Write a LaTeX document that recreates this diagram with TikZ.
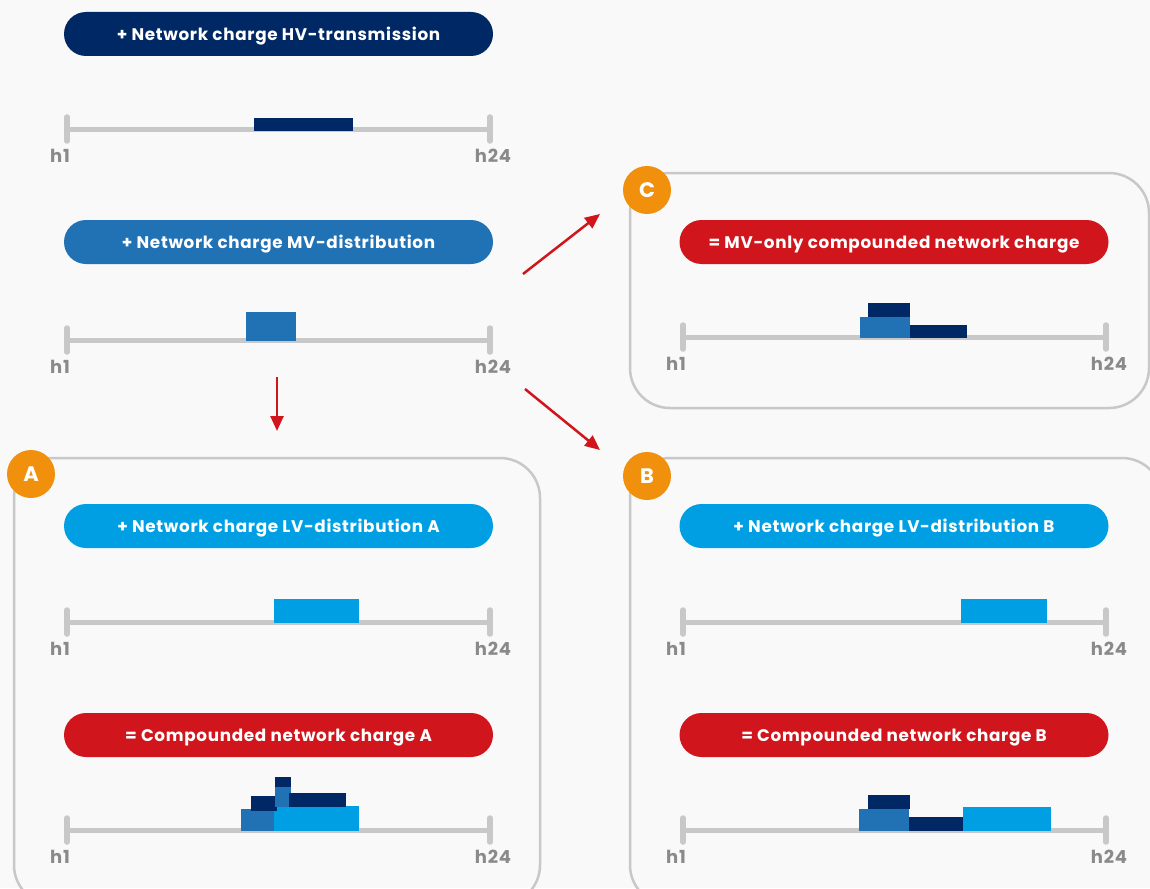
\documentclass[tikz,border=0pt]{standalone}
\usepackage{fontspec}
\setmainfont{Poppins}
\newfontfamily\pillfont[LetterSpace=4]{Poppins}
\usetikzlibrary{arrows.meta}
\definecolor{navy}{HTML}{002864}
\definecolor{midblue}{HTML}{2171B5}
\definecolor{lightblue}{HTML}{009FE3}
\definecolor{chargered}{HTML}{D0161C}
\definecolor{badgeorange}{HTML}{F0900C}
\definecolor{axisgray}{HTML}{C8C8C8}
\definecolor{labgray}{HTML}{8A8A8A}
\definecolor{bggray}{HTML}{F9F9F9}

\begin{document}
\begin{tikzpicture}[x=1pt, y=-1pt,
	pill/.style={rounded corners=22pt, minimum width=429pt, minimum height=44pt, inner sep=0pt, text height=13pt, text depth=0pt, text=white, font=\pillfont\fontsize{16.8}{18}\selectfont\bfseries},
	badge/.style={circle, fill=badgeorange, minimum size=48pt, inner sep=0pt, text height=15pt, text depth=0pt, text=white, font=\fontsize{21}{22}\selectfont\bfseries},
	panel/.style={draw=axisgray, line width=2.5pt, rounded corners=40pt},
	axis/.style={draw=axisgray, line width=5pt},
	tick/.style={draw=axisgray, line width=5.5pt, line cap=round},
	hlab/.style={text=labgray, inner sep=0pt, font=\pillfont\fontsize{18}{20}\selectfont\bfseries},
	redarrow/.style={draw=chargered, line width=2.5pt, -{Triangle[length=15pt, width=13pt]}}]
	\useasboundingbox (0,0) rectangle (1150,888);
	\fill[bggray] (0,0) rectangle (1150,888);

	% panels
	\draw[panel] (14,458) rectangle (540,905);
	\draw[panel] (630,458) rectangle (1162,905);
	\draw[panel] (630,173) rectangle (1149,408);

	% label pills
	\node[pill, fill=navy] (hv) at (278.5,34) {+ Network charge HV-transmission};
	\node[pill, fill=midblue] (mv) at (278.5,242) {+ Network charge MV-distribution};
	\node[pill, fill=lightblue] (lva) at (278.5,526) {+ Network charge LV-distribution A};
	\node[pill, fill=chargered] (cpa) at (278.5,735) {= Compounded network charge A};
	\node[pill, fill=chargered] (cpc) at (894,242) {= MV-only compounded network charge};
	\node[pill, fill=lightblue] (lvb) at (894,526) {+ Network charge LV-distribution B};
	\node[pill, fill=chargered] (cpb) at (894,735) {= Compounded network charge B};

	% time axes h1 .. h24
	\foreach \n/\xa/\xb/\y in {hv/67/490/129, mv/67/490/340, lva/67/490/622, cpa/67/490/830,
		cpc/683/1106/337, lvb/683/1106/622, cpb/683/1106/830} {
		\coordinate (\n s) at (\xa,\y);
		\coordinate (\n e) at (\xb,\y);
		\draw[axis] (\n s) -- (\n e);
		\draw[tick] (\xa,\y-12) -- (\xa,\y+12);
		\draw[tick] (\xb,\y-12) -- (\xb,\y+12);
		\node[hlab] (\n h1) at (\xa-7,\y+27) {h1};
		\node[hlab] (\n h24) at (\xb+3,\y+27) {h24};
	}

	% charge blocks
	\fill[navy] (254,118) rectangle (353,131);
	\fill[midblue] (246,312) rectangle (296,341);
	\fill[lightblue] (274,599) rectangle (359,623);
	% compounded A
	\fill[midblue] (241,809) rectangle (275,831);
	\fill[lightblue] (274,806) rectangle (359,831);
	\fill[navy] (251,796) rectangle (277,811);
	\fill[midblue] (275,787) rectangle (291,807);
	\fill[navy] (275,777) rectangle (291,787);
	\fill[navy] (289,793) rectangle (346,807);
	% compounded C
	\fill[midblue] (860,317) rectangle (910,338);
	\fill[navy] (868,303) rectangle (910,317);
	\fill[navy] (910,325) rectangle (967,338);
	% LV B
	\fill[lightblue] (961,599) rectangle (1047,623);
	% compounded B
	\fill[midblue] (859,809) rectangle (909,831);
	\fill[navy] (868,795) rectangle (910,809);
	\fill[navy] (909,817) rectangle (964,831);
	\fill[lightblue] (963,807) rectangle (1051,831);

	% badges
	\node[badge] (ba) at (31,474) {A};
	\node[badge] (bb) at (647,476) {B};
	\node[badge] (bc) at (647,190) {C};

	% arrows
	\coordinate (toA1) at (277,377);
	\coordinate (toA2) at (277,431);
	\coordinate (toC1) at (523,274);
	\coordinate (toC2) at (600,214);
	\coordinate (toB1) at (525,389);
	\coordinate (toB2) at (600,450);
	\draw[redarrow] (toA1) -- (toA2);
	\draw[redarrow] (toC1) -- (toC2);
	\draw[redarrow] (toB1) -- (toB2);
\end{tikzpicture}
\end{document}
